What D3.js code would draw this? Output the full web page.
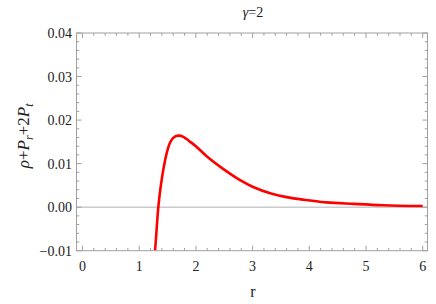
<!DOCTYPE html>
<html lang="en">
<head>
    <meta charset="UTF-8">
    <title>gamma = 2</title>
    <script src="https://d3js.org/d3.v7.min.js"></script>
    <style>
        body { margin: 0; background: #fff; }
        svg { display: block; }
        .frame { fill: none; stroke: #a0a0a0; stroke-width: 1; }
        .tick { stroke: #a0a0a0; stroke-width: 1; }
        .curve { fill: none; stroke: #ff0000; stroke-width: 2.6; }
    </style>
</head>
<body>
<svg id="chart" width="436" height="304"></svg>
<script>
    // values
    const rValues = [1.279, 1.30, 1.337, 1.38, 1.425, 1.485, 1.543, 1.60, 1.65, 1.707, 1.77, 1.83, 1.90, 2.00,
                     2.19, 2.48, 2.78, 3.00, 3.31, 3.60, 3.90, 4.30, 4.78, 5.30, 6.00];
    const sumValues = [-0.0100, -0.0065, 0.0000, 0.0048, 0.0086, 0.0124, 0.0148, 0.0159, 0.01635, 0.01643, 0.0162, 0.0157, 0.0150, 0.0140,
                       0.0117, 0.0088, 0.0062, 0.0047, 0.0032, 0.0023, 0.0017, 0.0011, 0.00076, 0.00045, 0.00025];
    const xTicks = [0, 1, 2, 3, 4, 5, 6];
    const yTicks = [-0.01, 0.00, 0.01, 0.02, 0.03, 0.04];

    const serif = '"Liberation Serif", "Times New Roman", serif';
    const svg = d3.select("#chart");
    const pLeft = 76.5, pRight = 427.5, pTop = 33, pBottom = 250.7;

    const x = d3.scaleLinear().domain([-0.106, 6.085]).range([pLeft, pRight]);
    const y = d3.scaleLinear().domain([-0.01, 0.04]).range([pBottom, pTop]);

    // zero line
    svg.append("line")
        .attr("x1", pLeft).attr("x2", pRight)
        .attr("y1", y(0)).attr("y2", y(0))
        .attr("stroke", "#b0b0b0").attr("stroke-width", 1);

    // minor and major ticks on all four sides
    const xMinor = d3.range(0, 6.01, 0.2);
    const yMinor = d3.range(-0.01, 0.0401, 0.002);
    const ticks = svg.append("g");
    xMinor.forEach(v => {
        const major = xTicks.some(t => Math.abs(t - v) < 1e-6);
        const len = major ? 5 : 2.8;
        ticks.append("line").attr("class", "tick")
            .attr("x1", x(v)).attr("x2", x(v)).attr("y1", pBottom).attr("y2", pBottom - len);
        ticks.append("line").attr("class", "tick")
            .attr("x1", x(v)).attr("x2", x(v)).attr("y1", pTop).attr("y2", pTop + len);
    });
    yMinor.forEach(v => {
        const major = yTicks.some(t => Math.abs(t - v) < 1e-6);
        const len = major ? 5 : 2.8;
        ticks.append("line").attr("class", "tick")
            .attr("x1", pLeft).attr("x2", pLeft + len).attr("y1", y(v)).attr("y2", y(v));
        ticks.append("line").attr("class", "tick")
            .attr("x1", pRight).attr("x2", pRight - len).attr("y1", y(v)).attr("y2", y(v));
    });

    // tick labels
    svg.append("g").selectAll("text").data(xTicks).join("text")
        .attr("x", d => x(d)).attr("y", 270.5)
        .attr("text-anchor", "middle")
        .style("font-family", serif).style("font-size", "14px").style("fill", "#222")
        .text(d => d);

    svg.append("g").selectAll("text").data(yTicks).join("text")
        .attr("x", 72).attr("y", d => y(d) + 5)
        .attr("text-anchor", "end")
        .style("font-family", serif).style("font-size", "14px").style("fill", "#222")
        .text(d => d < 0 ? "\u2212" + d3.format(".2f")(-d) : d3.format(".2f")(d));

    // curve
    svg.append("clipPath").attr("id", "plot")
        .append("rect").attr("x", pLeft).attr("y", pTop)
        .attr("width", pRight - pLeft).attr("height", pBottom - pTop);

    const pts = rValues.map((r, i) => [r, sumValues[i]]);
    svg.append("path")
        .datum(pts)
        .attr("class", "curve")
        .attr("clip-path", "url(#plot)")
        .attr("d", d3.line().x(d => x(d[0])).y(d => y(d[1])).curve(d3.curveCatmullRom.alpha(0.5)));

    // frame
    svg.append("rect").attr("class", "frame")
        .attr("x", pLeft).attr("y", pTop)
        .attr("width", pRight - pLeft).attr("height", pBottom - pTop);

    // title
    const title = svg.append("text")
        .attr("x", 253).attr("y", 17)
        .attr("text-anchor", "middle")
        .style("font-family", serif).style("font-size", "14px").style("fill", "#222");
    title.append("tspan").style("font-style", "italic").text("\u03b3");
    title.append("tspan").text("=2");

    // x label
    svg.append("text")
        .attr("x", 253).attr("y", 297)
        .attr("text-anchor", "middle")
        .style("font-family", serif).style("font-size", "16px").style("fill", "#222")
        .text("r");

    // y label
    const yl = svg.append("text")
        .attr("transform", `translate(29,${(pTop + pBottom) / 2 - 6}) rotate(-90)`)
        .attr("text-anchor", "middle")
        .style("font-family", serif).style("font-size", "17px").style("fill", "#222");
    yl.append("tspan").style("font-style", "italic").text("\u03c1");
    yl.append("tspan").text("+");
    yl.append("tspan").style("font-style", "italic").text("P");
    yl.append("tspan").style("font-style", "italic").style("font-size", "12px").attr("dy", 4).text("r");
    yl.append("tspan").attr("dy", -4).text("+2");
    yl.append("tspan").style("font-style", "italic").text("P");
    yl.append("tspan").style("font-style", "italic").style("font-size", "12px").attr("dy", 4).text("t");
</script>
</body>
</html>
